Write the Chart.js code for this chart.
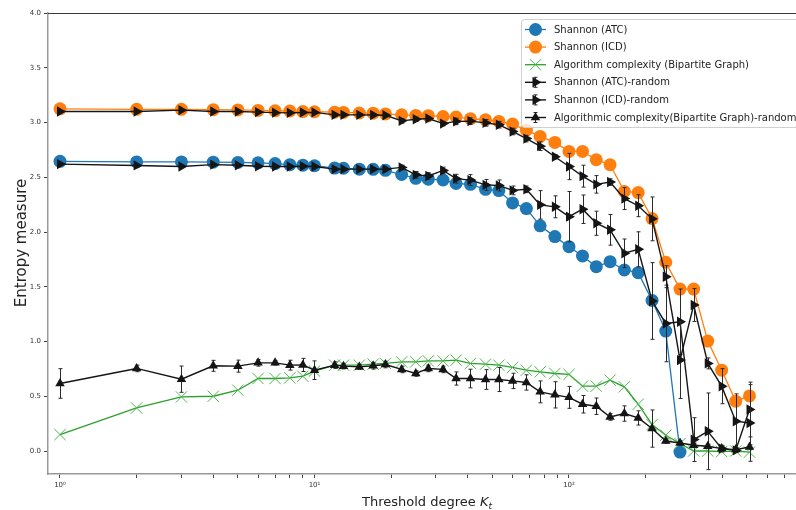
<!DOCTYPE html>
<html>
<head>
<meta charset="utf-8">
<script src="https://cdn.jsdelivr.net/npm/chart.js@4.4.1/dist/chart.umd.min.js"></script>
<style>
  html, body { margin: 0; padding: 0; background: #fff; }
  #wrap { width: 796px; height: 510px; }
</style>
</head>
<body>
<div id="wrap"><canvas id="chart" width="796" height="510"></canvas></div>
<script>
// threshold degrees K_t (x values, log axis)
const thresholds = [1, 2, 3, 4, 5, 6, 7, 8, 9, 10, 12, 13, 15, 17, 19, 22, 25, 28, 32, 36,
    41, 47, 53, 60, 68, 77, 88, 100, 113, 128, 145, 165, 187, 212, 240, 273, 309, 351, 398, 452, 512];

const shannonATC = [2.645, 2.64, 2.64, 2.638, 2.635, 2.632, 2.625, 2.615, 2.61, 2.605,
    2.584, 2.582, 2.574, 2.572, 2.563, 2.525, 2.49, 2.482, 2.475, 2.443,
    2.435, 2.39, 2.378, 2.266, 2.214, 2.056, 1.958, 1.866, 1.781, 1.683,
    1.729, 1.653, 1.629, 1.375, 1.095, -0.01, null, null, null, null, null];

const shannonICD = [3.125, 3.12, 3.12, 3.117, 3.115, 3.11, 3.107, 3.105, 3.10, 3.098,
    3.094, 3.092, 3.087, 3.085, 3.078, 3.07, 3.065, 3.062, 3.055, 3.05,
    3.034, 3.025, 3.01, 2.986, 2.93, 2.873, 2.818, 2.736, 2.736, 2.66,
    2.614, 2.37, 2.36, 2.123, 1.724, 1.479, 1.479, 1.004, 0.738, 0.455, 0.503];

const algoComplexity = [0.15, 0.393, 0.494, 0.50, 0.555, 0.662, 0.662, 0.668, 0.683, 0.73,
    0.784, 0.784, 0.784, 0.793, 0.80, 0.814, 0.814, 0.823, 0.823, 0.83,
    0.80, 0.793, 0.784, 0.763, 0.738, 0.723, 0.708, 0.70, 0.592, 0.592,
    0.647, 0.586, 0.427, 0.241, 0.144, 0.068, 0.0, 0.0, -0.005, 0.0, -0.01];

const shannonATCRandom = [2.62, 2.608, 2.598, 2.615, 2.61, 2.60, 2.598, 2.598, 2.60, 2.598,
    2.574, 2.574, 2.574, 2.574, 2.574, 2.59, 2.522, 2.512, 2.562, 2.487,
    2.474, 2.43, 2.425, 2.38, 2.39, 2.248, 2.23, 2.14, 2.208, 2.08,
    2.02, 1.806, 1.842, 1.37, 1.165, 1.18, 0.104, 0.18, 0.022, 0.006, 0.379];
const shannonATCRandomErr = [0.01, 0.01, 0.01, 0.01, 0.01, 0.01, 0.01, 0.01, 0.01, 0.01,
    0.01, 0.01, 0.01, 0.015, 0.015, 0.02, 0.03, 0.03, 0.03, 0.04,
    0.05, 0.05, 0.05, 0.04, 0.03, 0.13, 0.1, 0.23, 0.13, 0.11,
    0.14, 0.13, 0.16, 0.35, 0.35, 0.3, 0.2, 0.35, 0.03, 0.02, 0.25];

const shannonICDRandom = [3.10, 3.10, 3.113, 3.10, 3.10, 3.095, 3.09, 3.088, 3.092, 3.092,
    3.07, 3.07, 3.07, 3.068, 3.066, 3.015, 3.03, 3.036, 2.99, 3.01,
    3.013, 2.997, 2.98, 2.918, 2.853, 2.784, 2.687, 2.598, 2.51, 2.435,
    2.456, 2.305, 2.24, 2.12, 1.592, 0.83, 1.333, 0.80, 0.592, 0.272, 0.256];
const shannonICDRandomErr = [0.01, 0.01, 0.01, 0.01, 0.01, 0.01, 0.01, 0.01, 0.01, 0.01,
    0.01, 0.01, 0.01, 0.01, 0.01, 0.02, 0.02, 0.02, 0.02, 0.03,
    0.03, 0.03, 0.03, 0.03, 0.03, 0.04, 0.02, 0.12, 0.1, 0.08,
    0.03, 0.1, 0.1, 0.2, 0.1, 0.35, 0.15, 0.05, 0.16, 0.25, 0.35];

const algoRandom = [0.617, 0.754, 0.656, 0.778, 0.775, 0.805, 0.805, 0.784, 0.786, 0.738,
    0.784, 0.775, 0.768, 0.778, 0.79, 0.745, 0.708, 0.754, 0.745, 0.662,
    0.662, 0.653, 0.653, 0.64, 0.626, 0.54, 0.513, 0.49, 0.427, 0.409,
    0.311, 0.342, 0.302, 0.205, 0.091, 0.073, 0.052, 0.043, 0.022, 0.013, 0.037];
const algoRandomErr = [0.135, 0.03, 0.12, 0.05, 0.055, 0.03, 0.02, 0.045, 0.06, 0.085,
    0.03, 0.025, 0.02, 0.03, 0.03, 0.03, 0.025, 0.03, 0.03, 0.06,
    0.085, 0.09, 0.11, 0.07, 0.07, 0.1, 0.12, 0.1, 0.08, 0.075,
    0.03, 0.07, 0.065, 0.17, 0.02, 0.02, 0.02, 0.02, 0.02, 0.02, 0.02];

const xTickValues = [1, 2, 3, 4, 5, 6, 7, 8, 9, 10, 20, 30, 40, 50, 60, 70, 80, 90, 100, 200, 300, 400, 500, 600, 700];
const xTickLabels = { 1: '10\u2070', 10: '10\u00b9', 100: '10\u00b2' };
const yTickValues = [0, 0.5, 1.0, 1.5, 2.0, 2.5, 3.0, 3.5, 4.0];

const FONT = 'DejaVu Sans';
const BLACK = '#151515';

const pts = arr => thresholds.map((x, i) => ({ x: x, y: arr[i] }));

// vertical error bars, drawn right before their own series
const errorBarPlugin = {
    id: 'errorBars',
    beforeDatasetDraw(chart, args) {
        const ds = chart.data.datasets[args.index];
        if (!ds.errors) return;
        const { ctx, chartArea } = chart;
        const xs = chart.scales.x, ys = chart.scales.y;
        ctx.save();
        ctx.beginPath();
        ctx.rect(chartArea.left, chartArea.top, chartArea.width, chartArea.height);
        ctx.clip();
        ctx.strokeStyle = '#2a2a2a';
        ctx.lineWidth = 1;
        ds.data.forEach((p, i) => {
            const e = ds.errors[i];
            if (p.y == null || !e) return;
            const px = Math.round(xs.getPixelForValue(p.x)) + 0.5;
            const top = ys.getPixelForValue(p.y + e);
            const bot = ys.getPixelForValue(p.y - e);
            ctx.beginPath();
            ctx.moveTo(px, top); ctx.lineTo(px, bot);
            ctx.moveTo(px - 2, top); ctx.lineTo(px + 2, top);
            ctx.moveTo(px - 2, bot); ctx.lineTo(px + 2, bot);
            ctx.stroke();
        });
        ctx.restore();
    }
};

function drawMarker(ctx, ds, x, y) {
    const r = ds.pointRadius;
    ctx.save();
    ctx.fillStyle = ds.pointBackgroundColor;
    ctx.strokeStyle = ds.pointBorderColor;
    ctx.lineWidth = ds.pointBorderWidth;
    ctx.translate(x, y);
    ctx.rotate((ds.pointRotation || 0) * Math.PI / 180);
    ctx.beginPath();
    if (ds.pointStyle === 'circle') {
        ctx.arc(0, 0, r, 0, Math.PI * 2);
        ctx.fill();
    } else if (ds.pointStyle === 'triangle') {
        ctx.moveTo(0, -r);
        ctx.lineTo(r * 0.866, r * 0.5);
        ctx.lineTo(-r * 0.866, r * 0.5);
        ctx.closePath();
        ctx.fill();
    } else if (ds.pointStyle === 'crossRot') {
        const d = r * 0.707;
        ctx.moveTo(-d, -d); ctx.lineTo(d, d);
        ctx.moveTo(d, -d); ctx.lineTo(-d, d);
    }
    if (ds.pointBorderWidth > 0) ctx.stroke();
    ctx.restore();
}

// frame, axis titles and the legend box inside the plot
const decorPlugin = {
    id: 'decor',
    afterDraw(chart) {
        const { ctx, chartArea } = chart;
        ctx.save();
        // top spine
        ctx.strokeStyle = '#3a3a3a';
        ctx.lineWidth = 1;
        ctx.beginPath();
        ctx.moveTo(chartArea.left, chartArea.top + 0.5);
        ctx.lineTo(796, chartArea.top + 0.5);
        ctx.stroke();

        // y title
        ctx.fillStyle = '#222';
        ctx.font = `15px "${FONT}"`;
        ctx.textAlign = 'center';
        ctx.textBaseline = 'middle';
        ctx.save();
        ctx.translate(22, 243);
        ctx.rotate(-Math.PI / 2);
        ctx.fillText('Entropy measure', 0, 0);
        ctx.restore();

        // x title with italic K_t
        ctx.textAlign = 'left';
        ctx.textBaseline = 'alphabetic';
        const main = 'Threshold degree ';
        ctx.font = `13px "${FONT}"`;
        const w1 = ctx.measureText(main).width;
        ctx.font = `italic 13px "${FONT}"`;
        const w2 = ctx.measureText('K').width;
        ctx.font = `italic 9px "${FONT}"`;
        const w3 = ctx.measureText('t').width;
        let x0 = 427 - (w1 + w2 + w3) / 2;
        const base = 506;
        ctx.font = `13px "${FONT}"`;
        ctx.fillText(main, x0, base);
        ctx.font = `italic 13px "${FONT}"`;
        ctx.fillText('K', x0 + w1, base);
        ctx.font = `italic 9px "${FONT}"`;
        ctx.fillText('t', x0 + w1 + w2, base + 3);

        // legend
        const lx = 521.5, ly = 19.5, lw = 300, lh = 108;
        ctx.fillStyle = 'rgba(255,255,255,0.8)';
        ctx.strokeStyle = '#d0d0d0';
        ctx.lineWidth = 1;
        ctx.beginPath();
        ctx.roundRect(lx, ly, lw, lh, 3);
        ctx.fill();
        ctx.stroke();

        ctx.font = `10px "${FONT}"`;
        ctx.textBaseline = 'middle';
        chart.data.datasets.forEach((ds, i) => {
            const y = 29.5 + i * 17.6;
            ctx.strokeStyle = ds.borderColor;
            ctx.lineWidth = ds.borderWidth;
            ctx.beginPath();
            ctx.moveTo(525, y);
            ctx.lineTo(546, y);
            ctx.stroke();
            if (ds.errors) {
                ctx.strokeStyle = '#2a2a2a';
                ctx.lineWidth = 1;
                ctx.beginPath();
                ctx.moveTo(535.5, y - 5); ctx.lineTo(535.5, y + 5);
                ctx.moveTo(533.5, y - 5); ctx.lineTo(537.5, y - 5);
                ctx.moveTo(533.5, y + 5); ctx.lineTo(537.5, y + 5);
                ctx.stroke();
            }
            drawMarker(ctx, ds, 535.5, y);
            ctx.fillStyle = '#222';
            ctx.fillText(ds.label, 554, y + 0.5);
        });
        ctx.restore();
    }
};

const datasets = [
    {
        label: 'Shannon (ATC)', data: pts(shannonATC), order: 6,
        borderColor: '#1f77b4', borderWidth: 1.3,
        pointStyle: 'circle', pointRadius: 6.5, pointBorderWidth: 0,
        pointBackgroundColor: '#1f77b4', pointBorderColor: '#1f77b4'
    },
    {
        label: 'Shannon (ICD)', data: pts(shannonICD), order: 5,
        borderColor: '#ff7f0e', borderWidth: 1.3,
        pointStyle: 'circle', pointRadius: 6.5, pointBorderWidth: 0,
        pointBackgroundColor: '#ff7f0e', pointBorderColor: '#ff7f0e'
    },
    {
        label: 'Algorithm complexity (Bipartite Graph)', data: pts(algoComplexity), order: 4,
        borderColor: '#2ca02c', borderWidth: 1.3,
        pointStyle: 'crossRot', pointRadius: 8, pointBorderWidth: 1,
        pointBackgroundColor: '#4cb84c', pointBorderColor: '#4cb84c'
    },
    {
        label: 'Shannon (ATC)-random', data: pts(shannonATCRandom), errors: shannonATCRandomErr, order: 3,
        borderColor: BLACK, borderWidth: 1.4,
        pointStyle: 'triangle', pointRotation: 90, pointRadius: 6, pointBorderWidth: 0,
        pointBackgroundColor: BLACK, pointBorderColor: BLACK
    },
    {
        label: 'Shannon (ICD)-random', data: pts(shannonICDRandom), errors: shannonICDRandomErr, order: 2,
        borderColor: BLACK, borderWidth: 1.4,
        pointStyle: 'triangle', pointRotation: 90, pointRadius: 6, pointBorderWidth: 0,
        pointBackgroundColor: BLACK, pointBorderColor: BLACK
    },
    {
        label: 'Algorithmic complexity(Bipartite Graph)-random', data: pts(algoRandom), errors: algoRandomErr, order: 1,
        borderColor: BLACK, borderWidth: 1.4,
        pointStyle: 'triangle', pointRadius: 5.5, pointBorderWidth: 0,
        pointBackgroundColor: BLACK, pointBorderColor: BLACK
    }
];
datasets.forEach(d => { d.fill = false; d.tension = 0; d.spanGaps = false; });

const xMin = Math.pow(10, -12 / 254.5);
const xMax = Math.pow(10, 736 / 254.5);

new Chart(document.getElementById('chart').getContext('2d'), {
    type: 'line',
    data: { datasets: datasets },
    options: {
        responsive: false,
        animation: false,
        devicePixelRatio: 1,
        layout: { autoPadding: false, padding: { top: 13, right: 0, left: 0, bottom: 0 } },
        plugins: {
            legend: { display: false },
            tooltip: { enabled: false }
        },
        scales: {
            x: {
                type: 'logarithmic',
                min: xMin, max: xMax, bounds: 'data',
                afterBuildTicks: s => { s.ticks = xTickValues.map(v => ({ value: v })); },
                afterFit: s => { s.height = 36; s.paddingLeft = 0; s.paddingRight = 0; },
                ticks: {
                    autoSkip: false, maxRotation: 0, padding: 3,
                    color: '#333', font: { family: FONT, size: 7 },
                    callback: v => xTickLabels[v] || ''
                },
                grid: { drawOnChartArea: false, drawTicks: true, tickLength: 4, tickColor: '#444' },
                border: { color: '#999', width: 1.5 }
            },
            y: {
                type: 'linear',
                min: -0.21, max: 4.0,
                afterBuildTicks: s => { s.ticks = yTickValues.map(v => ({ value: v })); },
                afterFit: s => { s.width = 48; s.paddingTop = 0; s.paddingBottom = 0; },
                ticks: {
                    padding: 3, color: '#333', font: { family: FONT, size: 7 },
                    callback: v => v.toFixed(1)
                },
                grid: { drawOnChartArea: false, drawTicks: true, tickLength: 4, tickColor: '#444' },
                border: { color: '#999', width: 1.5 }
            }
        }
    },
    plugins: [errorBarPlugin, decorPlugin]
});
</script>
</body>
</html>
